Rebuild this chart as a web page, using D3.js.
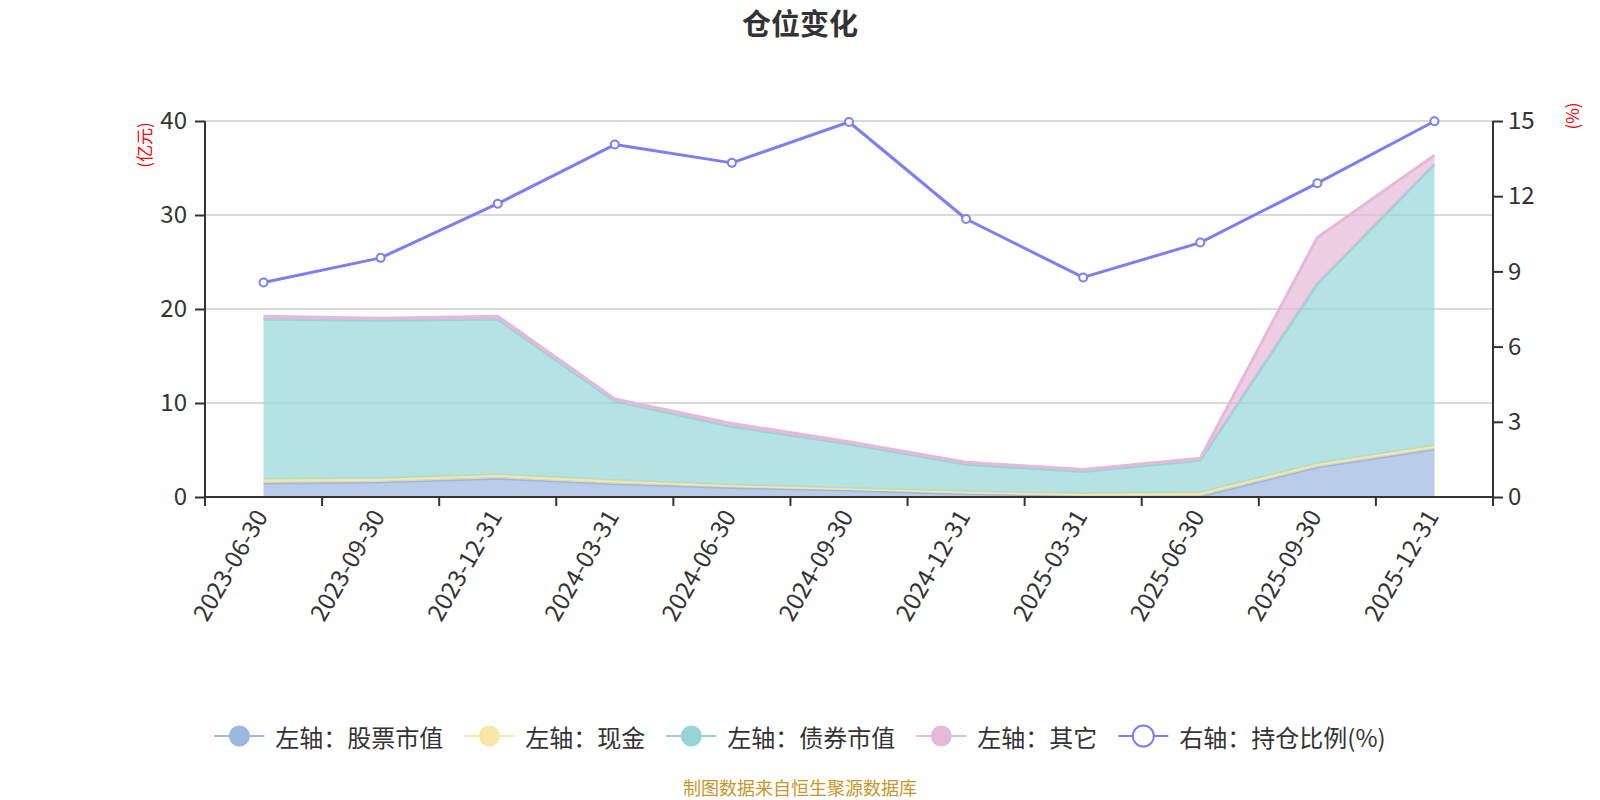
<!DOCTYPE html>
<head>
<meta charset="utf-8">
<title>仓位变化</title>
<style>
body { margin: 0; background: #fff; }
text { font-family: "Noto Sans CJK SC", "Noto Sans", sans-serif; fill: #333; }
</style>
</head>
<body>
<script src="https://cdn.jsdelivr.net/npm/d3@7"></script>
<script>

// data
var dates = ["2023-06-30", "2023-09-30", "2023-12-31", "2024-03-31", "2024-06-30", "2024-09-30",
             "2024-12-31", "2025-03-31", "2025-06-30", "2025-09-30", "2025-12-31"];
var stock = [1.5, 1.6, 2.0, 1.4, 1.0, 0.75, 0.35, 0.1, 0.1, 3.2, 5.1];
var cash  = [0.35, 0.35, 0.35, 0.35, 0.25, 0.15, 0.2, 0.25, 0.35, 0.35, 0.35];
var bond  = [17.05, 16.85, 16.55, 8.45, 6.25, 4.75, 2.93, 2.37, 3.46, 19.15, 29.95];
var other = [0.34, 0.22, 0.34, 0.23, 0.33, 0.22, 0.22, 0.21, 0.22, 4.9, 0.95];
var ratio = [8.56, 9.54, 11.70, 14.06, 13.33, 14.96, 11.09, 8.76, 10.15, 12.52, 14.99];
var leftTicks = [0, 10, 20, 30, 40];
var rightTicks = [0, 3, 6, 9, 12, 15];

var seriesNames = ["左轴：股票市值", "左轴：现金", "左轴：债券市值", "左轴：其它", "右轴：持仓比例(%)"];
var colors = ["#9bb8e2", "#f7e6a6", "#96d5d6", "#e7b9d9", "#7b7ef5"];

var width = 1600,
    height = 800,
    plotL = 205, plotR = 1493, plotT = 121, plotB = 497;

var svg = d3.select("body").append("svg")
    .attr("width", width)
    .attr("height", height);

var x = d3.scaleBand().domain(dates).range([plotL, plotR]);
var yL = d3.scaleLinear().domain([0, 40]).range([plotB, plotT]);
var yR = d3.scaleLinear().domain([0, 15]).range([plotB, plotT]);

function cx(d) { return x(d) + x.bandwidth() / 2; }

// title
svg.append("text")
    .attr("x", 800).attr("y", 22)
    .attr("text-anchor", "middle")
    .attr("dominant-baseline", "central")
    .style("font-size", "29px")
    .style("font-weight", "bold")
    .text("仓位变化");

// grid lines
svg.append("g").selectAll("line")
    .data(leftTicks.slice(1))
    .enter().append("line")
    .attr("x1", plotL).attr("x2", plotR)
    .attr("y1", function(d) { return yL(d); })
    .attr("y2", function(d) { return yL(d); })
    .style("stroke", "#ccc")
    .style("stroke-width", 1.5);

// stacked areas
var table = dates.map(function(d, i) {
  return {date: d, stock: stock[i], cash: cash[i], bond: bond[i], other: other[i]};
});
var stackData = d3.stack().keys(["stock", "cash", "bond", "other"])(table);

var area = d3.area()
    .x(function(d) { return cx(d.data.date); })
    .y0(function(d) { return yL(d[0]); })
    .y1(function(d) { return yL(d[1]); });
var topLine = d3.line()
    .x(function(d) { return cx(d.data.date); })
    .y(function(d) { return yL(d[1]); });

stackData.forEach(function(s, i) {
  var g = svg.append("g");
  g.append("path")
      .attr("d", area(s))
      .style("fill", colors[i])
      .style("fill-opacity", 0.7);
  g.append("path")
      .attr("d", topLine(s))
      .style("fill", "none")
      .style("stroke", colors[i])
      .style("stroke-width", 3)
      .style("stroke-linejoin", "round");
});

// axes
var xAxis = svg.append("g")
    .attr("transform", "translate(0," + plotB + ")")
    .call(d3.axisBottom(x).tickSize(0).tickFormat(""));
xAxis.select(".domain").remove();
xAxis.append("line")
    .attr("x1", plotL).attr("x2", plotR)
    .style("stroke", "#333").style("stroke-width", 2);
var bounds = dates.map(function(d) { return x(d); }).concat([plotR]);
xAxis.selectAll(".bt").data(bounds).enter().append("line")
    .attr("class", "bt")
    .attr("x1", function(d) { return d; }).attr("x2", function(d) { return d; })
    .attr("y1", 0).attr("y2", 9)
    .style("stroke", "#333").style("stroke-width", 2);

svg.append("g").selectAll("text")
    .data(dates)
    .enter().append("text")
    .attr("transform", function(d) { return "translate(" + (cx(d) - 4) + "," + (plotB + 14) + ") rotate(-60)"; })
    .attr("text-anchor", "end")
    .attr("dominant-baseline", "central")
    .style("font-size", "24px")
    .text(function(d) { return d; });

var yAxisL = svg.append("g")
    .attr("transform", "translate(" + plotL + ",0)")
    .call(d3.axisLeft(yL).tickValues(leftTicks).tickSize(10).tickPadding(8));
var yAxisR = svg.append("g")
    .attr("transform", "translate(" + plotR + ",0)")
    .call(d3.axisRight(yR).tickValues(rightTicks).tickSize(10).tickPadding(5));

[yAxisL, yAxisR].forEach(function(a) {
  a.select(".domain").attr("d", "M0," + plotT + "V" + plotB)
      .style("stroke", "#333").style("stroke-width", 2);
  a.selectAll(".tick line").style("stroke", "#333").style("stroke-width", 2);
  a.selectAll(".tick text")
      .style("font-size", "24px")
      .style("fill", "#333")
      .style("font-family", "'Noto Sans CJK SC', 'Noto Sans', sans-serif");
});

// unit labels
svg.append("text")
    .attr("transform", "translate(143,145) rotate(-90)")
    .attr("text-anchor", "middle")
    .attr("dominant-baseline", "central")
    .style("font-size", "17px")
    .style("fill", "red")
    .text("(亿元)");
svg.append("text")
    .attr("transform", "translate(1571,116) rotate(-90)")
    .attr("text-anchor", "middle")
    .attr("dominant-baseline", "central")
    .style("font-size", "17px")
    .style("fill", "red")
    .text("(%)");

// ratio line on right axis
var ratioLine = d3.line()
    .x(function(d, i) { return cx(dates[i]); })
    .y(function(d) { return yR(d); });
svg.append("path")
    .datum(ratio)
    .attr("d", ratioLine)
    .style("fill", "none")
    .style("stroke", colors[4])
    .style("stroke-width", 3)
    .style("stroke-linejoin", "round");
svg.append("g").selectAll("circle")
    .data(ratio)
    .enter().append("circle")
    .attr("cx", function(d, i) { return cx(dates[i]); })
    .attr("cy", function(d) { return yR(d); })
    .attr("r", 4)
    .style("fill", "#fff")
    .style("stroke", colors[4])
    .style("stroke-width", 2);

// legend
var legend = svg.append("g");
var items = legend.selectAll("g")
    .data(seriesNames)
    .enter().append("g");
items.append("line")
    .attr("x1", 0).attr("x2", 50)
    .style("stroke", function(d, i) { return colors[i]; })
    .style("stroke-width", 2);
items.append("circle")
    .attr("cx", 25).attr("r", 10.5)
    .style("fill", function(d, i) { return i == 4 ? "#fff" : colors[i]; })
    .style("stroke", function(d, i) { return colors[i]; })
    .style("stroke-width", function(d, i) { return i == 4 ? 2 : 0; });
items.append("text")
    .attr("x", 61)
    .attr("dominant-baseline", "central")
    .style("font-size", "24px")
    .text(function(d) { return d; });

var pos = 0;
items.each(function() {
  var w = 61 + d3.select(this).select("text").node().getComputedTextLength();
  d3.select(this).attr("transform", "translate(" + pos + ",0)");
  pos += w + 21;
});
pos -= 21;
legend.attr("transform", "translate(" + (800 - pos / 2) + ",736)");

// source note
svg.append("text")
    .attr("x", 800).attr("y", 787)
    .attr("text-anchor", "middle")
    .attr("dominant-baseline", "central")
    .style("font-size", "18px")
    .style("fill", "#c8962a")
    .text("制图数据来自恒生聚源数据库");

</script>
</body>
</html>
